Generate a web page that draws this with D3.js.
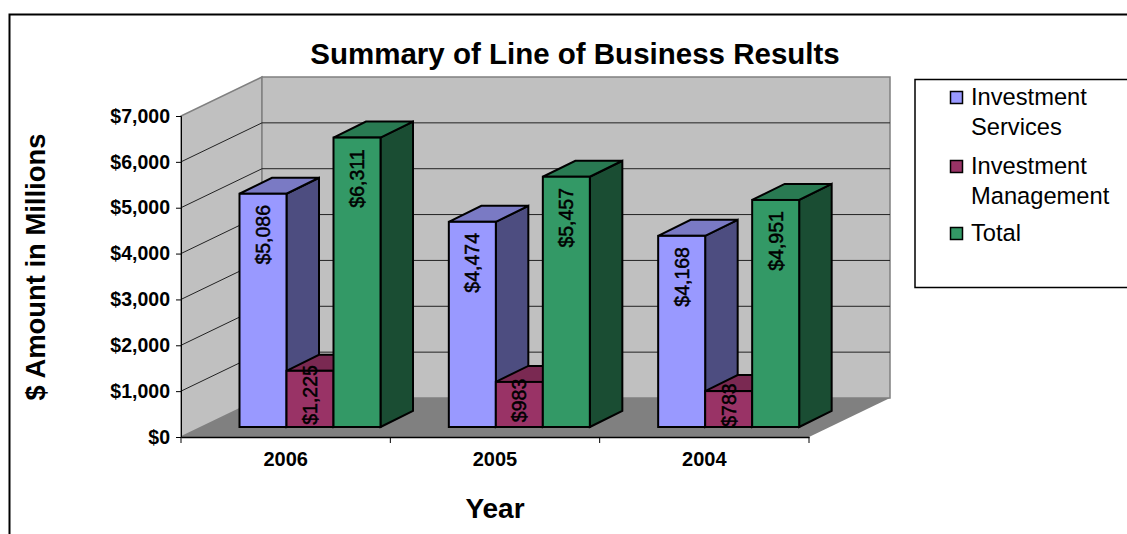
<!DOCTYPE html>
<html><head><meta charset="utf-8">
<script src="https://cdnjs.cloudflare.com/ajax/libs/d3/7.8.5/d3.min.js"></script>
<style>html,body{margin:0;padding:0;background:#fff}svg{display:block}text{font-family:"Liberation Sans",Arial,sans-serif;fill:#000}</style>
</head><body><svg id="c" width="1127" height="534"></svg>
<script>
const years = ["2006","2005","2004"];
const seriesNames = ["Investment Services","Investment Management","Total"];
const investmentServices = [5086,4474,4168];
const investmentManagement = [1225,983,783];
const total = [6311,5457,4951];
const yTicks = [0,1000,2000,3000,4000,5000,6000,7000];
const fills = ["#9999ff","#993366","#339966"];
const tops = ["#7a7ac4","#7a2952","#297a52"];
const sides = ["#4d4d80","#4d1a33","#1a4d33"];
const legendLines = [["Investment","Services"],["Investment","Management"],["Total"]];
const values = [investmentServices,investmentManagement,total];

const svg = d3.select("#c");
const fmt = v => "$" + d3.format(",")(v);
const y = d3.scaleLinear().domain([0,7000]).range([437,116]);
const x0 = d3.scaleBand().domain(years).range([181,809]);
const x1 = d3.scaleBand().domain(d3.range(3)).range([37.5,178.5]);
const wallDx = 81, wallDy = -39;
const barShiftX = 21, barShiftY = -10;
const depthX = 32.5, depthY = -16;
const poly = p => p.map(a=>a.join(",")).join(" ");

// frame
svg.append("path").attr("d","M9.5,534V14.5H1127").attr("fill","none").attr("stroke","#000").attr("stroke-width",2);

// title
svg.append("text").attr("x",575).attr("y",64).attr("text-anchor","middle")
  .attr("font-size",29.5).attr("font-weight","bold").text("Summary of Line of Business Results");

const xL=181, xR=809, y0=y(0), yT=y(7000);
// walls + floor
svg.append("polygon").attr("points",poly([[xL,y0],[xL+wallDx,y0+wallDy],[xL+wallDx,yT+wallDy],[xL,yT]]))
  .attr("fill","#c0c0c0").attr("stroke","#808080").attr("stroke-width",1.5);
svg.append("polygon").attr("points",poly([[xL+wallDx,y0+wallDy],[xR+wallDx,y0+wallDy],[xR+wallDx,yT+wallDy],[xL+wallDx,yT+wallDy]]))
  .attr("fill","#c0c0c0").attr("stroke","#808080").attr("stroke-width",1.5);
svg.append("polygon").attr("points",poly([[xL,y0],[xL+wallDx,y0+wallDy],[xR+wallDx,y0+wallDy],[xR,y0]]))
  .attr("fill","#808080");
// gridlines
yTicks.slice(1,-1).forEach(t=>{
  svg.append("polyline").attr("points",poly([[xL,y(t)],[xL+wallDx,y(t)+wallDy],[xR+wallDx,y(t)+wallDy]]))
   .attr("fill","none").attr("stroke","#222").attr("stroke-width",1);
});
// axes
const yAxis = svg.append("g").attr("transform",`translate(${xL},0)`)
  .call(d3.axisLeft(y).tickValues(yTicks).tickFormat(fmt).tickSize(5).tickPadding(6));
yAxis.select(".domain").attr("stroke","#000");
yAxis.selectAll("text").attr("font-size",19.5).attr("font-weight","bold").attr("font-family",'"Liberation Sans",Arial,sans-serif');
const xAxis = svg.append("g").attr("transform",`translate(0,${y0})`)
  .call(d3.axisBottom(x0).tickSizeOuter(0).tickSize(0).tickPadding(15));
xAxis.select(".domain").attr("stroke","#000").attr("stroke-width",1.5);
xAxis.selectAll("text").attr("font-size",20).attr("font-weight","bold").attr("font-family",'"Liberation Sans",Arial,sans-serif');
[...years.map(d=>x0(d)),xR].forEach(v=>{
  svg.append("line").attr("x1",v).attr("x2",v).attr("y1",y0).attr("y2",y0+6).attr("stroke","#000");
});

// bars
const labels=[];
years.forEach((yr,i)=>{
  values.forEach((vals,s)=>{
    const v=vals[i];
    const bx=x0(yr)+x1(s)+barShiftX, bw=x1.bandwidth(), base=y0+barShiftY, top=y(v)+barShiftY;
    const g=svg.append("g").attr("stroke","#000").attr("stroke-width",2).attr("stroke-linejoin","miter");
    g.append("polygon").attr("points",poly([[bx+bw,base],[bx+bw+depthX,base+depthY],[bx+bw+depthX,top+depthY],[bx+bw,top]])).attr("fill",sides[s]);
    g.append("polygon").attr("points",poly([[bx,top],[bx+depthX,top+depthY],[bx+bw+depthX,top+depthY],[bx+bw,top]])).attr("fill",tops[s]);
    g.append("rect").attr("x",bx).attr("y",top).attr("width",bw).attr("height",base-top).attr("fill",fills[s]);
    labels.push({v,s,cx:bx+bw/2,top,base});
  });
});
labels.forEach(d=>{
  const cy = d.s===1 ? (d.top+d.base)/2-4 : d.top+41;
  svg.append("text").attr("transform",`translate(${d.cx+7},${cy}) rotate(-90)`)
    .attr("text-anchor","middle").attr("font-size",19.5)
    .attr("stroke","#000").attr("stroke-width",0.5).text(fmt(d.v));
});

// axis titles
svg.append("text").attr("transform","translate(45,267) rotate(-90)").attr("text-anchor","middle")
  .attr("font-size",27.4).attr("font-weight","bold").text("$ Amount in Millions");
svg.append("text").attr("x",495).attr("y",518).attr("text-anchor","middle")
  .attr("font-size",28).attr("font-weight","bold").text("Year");

// legend
svg.append("rect").attr("x",915).attr("y",79.5).attr("width",222).attr("height",208)
  .attr("fill","#fff").attr("stroke","#000").attr("stroke-width",1.5);
const rowY=[97,166,233];
seriesNames.forEach((n,i)=>{
  svg.append("rect").attr("x",950.5).attr("y",rowY[i]-5.5).attr("width",12).attr("height",12)
    .attr("fill",fills[i]).attr("stroke","#000").attr("stroke-width",1.5);
  legendLines[i].forEach((t,j)=>{
    svg.append("text").attr("x",971).attr("y",rowY[i]+8+j*30).attr("font-size",23.7).text(t);
  });
});
</script></body></html>
